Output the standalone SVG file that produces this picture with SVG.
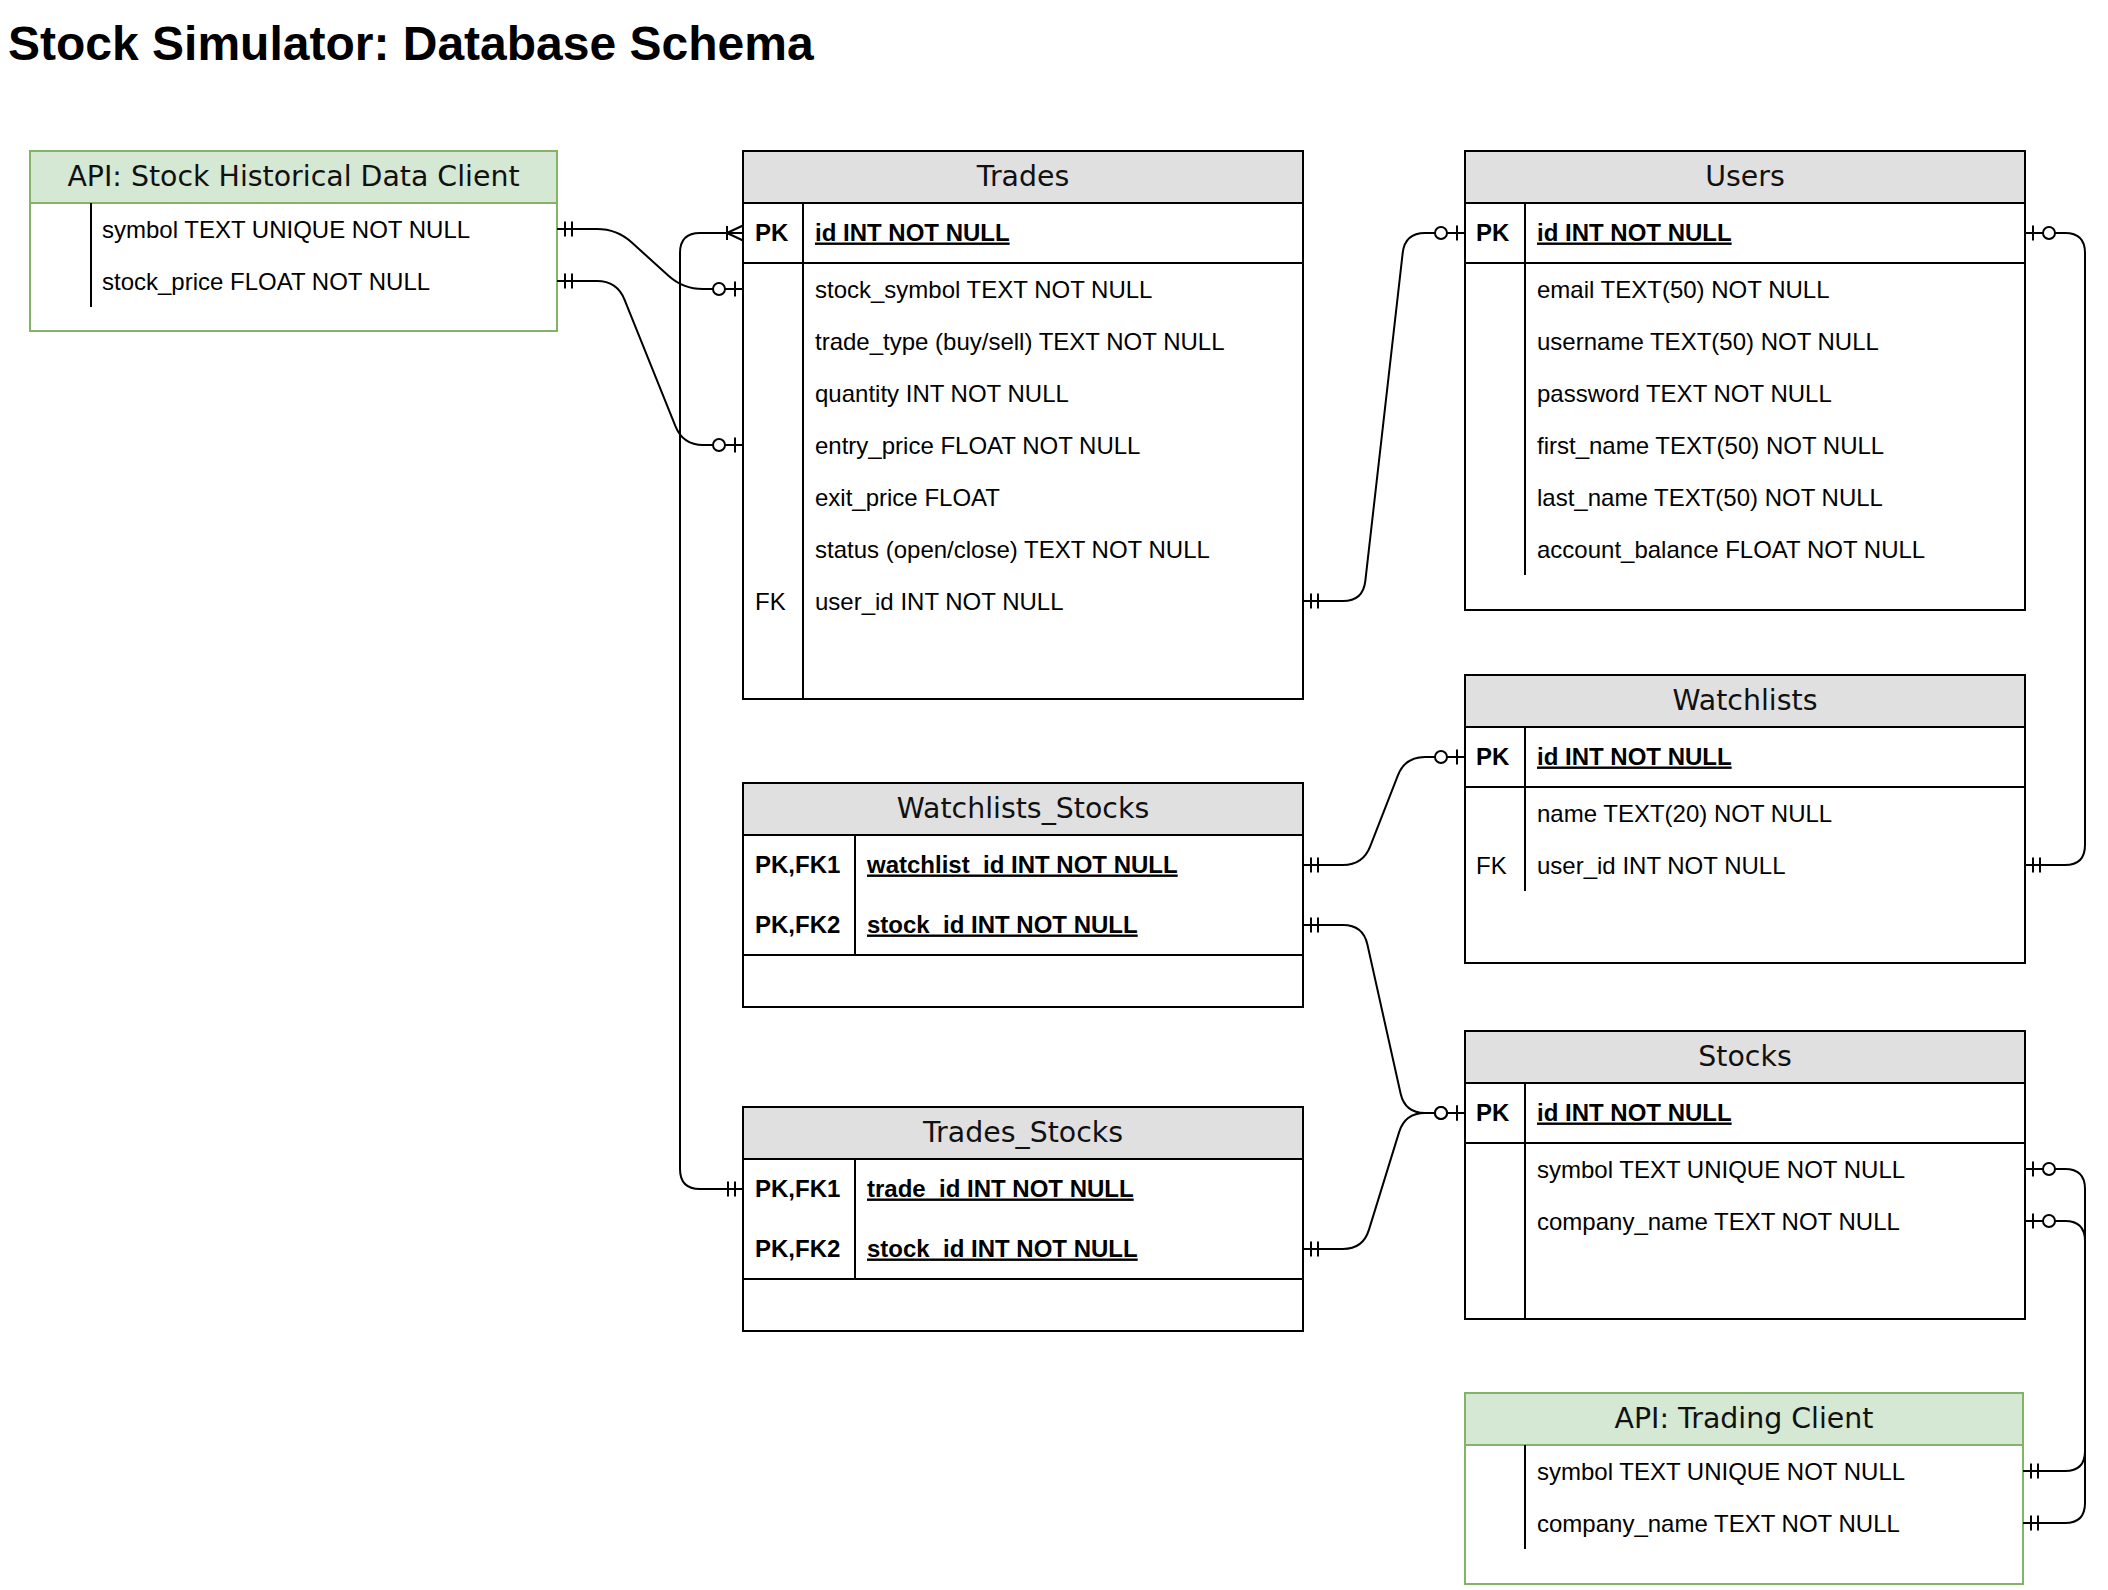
<svg xmlns="http://www.w3.org/2000/svg" width="2108" height="1590" viewBox="0 0 2108 1590">
<style>
.tbl{fill:#fff;stroke:#000;stroke-width:2}
.hdr{fill:#e0e0e0;stroke:#000;stroke-width:2}
.api{fill:#fff;stroke:#82b366;stroke-width:2}
.apih{fill:#d5e8d4;stroke:#82b366;stroke-width:2}
.sep{stroke:#000;stroke-width:2;fill:none}
.ht{font-family:"DejaVu Sans",Verdana,sans-serif;font-size:28.4px;text-anchor:middle;fill:#111}
.t{font-family:"Liberation Sans",Arial,sans-serif;font-size:24px;fill:#000}
.b{font-weight:bold}
.u{text-decoration:underline}
.title{font-family:"Liberation Sans",Arial,sans-serif;font-size:48px;font-weight:bold;fill:#000}
#connectors path{fill:none;stroke:#000;stroke-width:2}
.mk{fill:none;stroke:#000;stroke-width:2}
.mkc{fill:#fff;stroke:#000;stroke-width:2}
</style>
<defs>
<marker id="mandOne" markerUnits="userSpaceOnUse" viewBox="-30 -12 32 24" markerWidth="32" markerHeight="24" refX="0" refY="0" orient="auto-start-reverse" overflow="visible">
<path class="mk" d="M-8,-7.5 V7.5 M-15,-7.5 V7.5"/>
</marker>
<marker id="zeroToOne" markerUnits="userSpaceOnUse" viewBox="-34 -12 36 24" markerWidth="36" markerHeight="24" refX="0" refY="0" orient="auto-start-reverse" overflow="visible">
<path class="mk" d="M-8,-7.5 V7.5"/>
<circle class="mkc" cx="-24" cy="0" r="6"/>
</marker>
<marker id="oneToMany" markerUnits="userSpaceOnUse" viewBox="-30 -12 32 24" markerWidth="32" markerHeight="24" refX="0" refY="0" orient="auto-start-reverse" overflow="visible">
<path class="mk" d="M-16,-7 V7 M-16,0 L0,-7.5 M-16,0 L0,7.5"/>
</marker>
</defs>
<rect x="0" y="0" width="2108" height="1590" fill="#fff"/>
<text class="title" x="8" y="60">Stock Simulator: Database Schema</text>

<g id="api-historical">
<rect class="api" x="30" y="151" width="527" height="180"/>
<rect class="apih" x="30" y="151" width="527" height="52"/>
<text class="ht" x="293.5" y="186">API: Stock Historical Data Client</text>
<line class="sep" x1="91" y1="203" x2="91" y2="307"/>
<text class="t" x="102" y="237.5">symbol TEXT UNIQUE NOT NULL</text>
<text class="t" x="102" y="289.5">stock_price FLOAT NOT NULL</text>
</g>

<g id="trades">
<rect class="tbl" x="743" y="151" width="560" height="548"/>
<rect class="hdr" x="743" y="151" width="560" height="52"/>
<text class="ht" x="1023" y="186">Trades</text>
<line class="sep" x1="743" y1="263" x2="1303" y2="263"/>
<line class="sep" x1="803" y1="203" x2="803" y2="699"/>
<text class="t b" x="755" y="240.5">PK</text>
<text class="t b u" x="815" y="240.5">id INT NOT NULL</text>
<text class="t" x="815" y="297.5">stock_symbol TEXT NOT NULL</text>
<text class="t" x="815" y="349.5">trade_type (buy/sell) TEXT NOT NULL</text>
<text class="t" x="815" y="401.5">quantity INT NOT NULL</text>
<text class="t" x="815" y="453.5">entry_price FLOAT NOT NULL</text>
<text class="t" x="815" y="505.5">exit_price FLOAT</text>
<text class="t" x="815" y="557.5">status (open/close) TEXT NOT NULL</text>
<text class="t" x="755" y="609.5">FK</text>
<text class="t" x="815" y="609.5">user_id INT NOT NULL</text>
</g>

<g id="users">
<rect class="tbl" x="1465" y="151" width="560" height="459"/>
<rect class="hdr" x="1465" y="151" width="560" height="52"/>
<text class="ht" x="1745" y="186">Users</text>
<line class="sep" x1="1465" y1="263" x2="2025" y2="263"/>
<line class="sep" x1="1525" y1="203" x2="1525" y2="575"/>
<text class="t b" x="1476" y="240.5">PK</text>
<text class="t b u" x="1537" y="240.5">id INT NOT NULL</text>
<text class="t" x="1537" y="297.5">email TEXT(50) NOT NULL</text>
<text class="t" x="1537" y="349.5">username TEXT(50) NOT NULL</text>
<text class="t" x="1537" y="401.5">password TEXT NOT NULL</text>
<text class="t" x="1537" y="453.5">first_name TEXT(50) NOT NULL</text>
<text class="t" x="1537" y="505.5">last_name TEXT(50) NOT NULL</text>
<text class="t" x="1537" y="557.5">account_balance FLOAT NOT NULL</text>
</g>

<g id="watchlists">
<rect class="tbl" x="1465" y="675" width="560" height="288"/>
<rect class="hdr" x="1465" y="675" width="560" height="52"/>
<text class="ht" x="1745" y="710">Watchlists</text>
<line class="sep" x1="1465" y1="787" x2="2025" y2="787"/>
<line class="sep" x1="1525" y1="727" x2="1525" y2="891"/>
<text class="t b" x="1476" y="764.5">PK</text>
<text class="t b u" x="1537" y="764.5">id INT NOT NULL</text>
<text class="t" x="1537" y="821.5">name TEXT(20) NOT NULL</text>
<text class="t" x="1476" y="873.5">FK</text>
<text class="t" x="1537" y="873.5">user_id INT NOT NULL</text>
</g>

<g id="watchlists-stocks">
<rect class="tbl" x="743" y="783" width="560" height="224"/>
<rect class="hdr" x="743" y="783" width="560" height="52"/>
<text class="ht" x="1023" y="818">Watchlists_Stocks</text>
<line class="sep" x1="743" y1="955" x2="1303" y2="955"/>
<line class="sep" x1="855" y1="835" x2="855" y2="955"/>
<text class="t b" x="755" y="872.5">PK,FK1</text>
<text class="t b u" x="867" y="872.5">watchlist_id INT NOT NULL</text>
<text class="t b" x="755" y="932.5">PK,FK2</text>
<text class="t b u" x="867" y="932.5">stock_id INT NOT NULL</text>
</g>

<g id="trades-stocks">
<rect class="tbl" x="743" y="1107" width="560" height="224"/>
<rect class="hdr" x="743" y="1107" width="560" height="52"/>
<text class="ht" x="1023" y="1142">Trades_Stocks</text>
<line class="sep" x1="743" y1="1279" x2="1303" y2="1279"/>
<line class="sep" x1="855" y1="1159" x2="855" y2="1279"/>
<text class="t b" x="755" y="1196.5">PK,FK1</text>
<text class="t b u" x="867" y="1196.5">trade_id INT NOT NULL</text>
<text class="t b" x="755" y="1256.5">PK,FK2</text>
<text class="t b u" x="867" y="1256.5">stock_id INT NOT NULL</text>
</g>

<g id="stocks">
<rect class="tbl" x="1465" y="1031" width="560" height="288"/>
<rect class="hdr" x="1465" y="1031" width="560" height="52"/>
<text class="ht" x="1745" y="1066">Stocks</text>
<line class="sep" x1="1465" y1="1143" x2="2025" y2="1143"/>
<line class="sep" x1="1525" y1="1083" x2="1525" y2="1319"/>
<text class="t b" x="1476" y="1120.5">PK</text>
<text class="t b u" x="1537" y="1120.5">id INT NOT NULL</text>
<text class="t" x="1537" y="1177.5">symbol TEXT UNIQUE NOT NULL</text>
<text class="t" x="1537" y="1229.5">company_name TEXT NOT NULL</text>
</g>

<g id="api-trading">
<rect class="api" x="1465" y="1393" width="558" height="191"/>
<rect class="apih" x="1465" y="1393" width="558" height="52"/>
<text class="ht" x="1744" y="1428">API: Trading Client</text>
<line class="sep" x1="1525" y1="1445" x2="1525" y2="1549"/>
<text class="t" x="1537" y="1479.5">symbol TEXT UNIQUE NOT NULL</text>
<text class="t" x="1537" y="1531.5">company_name TEXT NOT NULL</text>
</g>

<g id="connectors">
<path marker-start="url(#mandOne)" marker-end="url(#zeroToOne)" d="M557,229 L597,229 Q617,229 631.8,242.5 L668.2,275.5 Q683,289 703,289 L743,289"/>
<path marker-start="url(#mandOne)" marker-end="url(#zeroToOne)" d="M557,281 L597,281 Q617,281 624.5,299.6 L675.5,426.4 Q683,445 703,445 L743,445"/>
<path marker-start="url(#oneToMany)" marker-end="url(#mandOne)" d="M743,233 L700,233 Q680,233 680,253 L680,1169 Q680,1189 700,1189 L743,1189"/>
<path marker-start="url(#mandOne)" marker-end="url(#zeroToOne)" d="M1303,601 L1343,601 Q1363,601 1365.3,581.1 L1402.7,252.9 Q1405,233 1425,233 L1465,233"/>
<path marker-start="url(#zeroToOne)" marker-end="url(#mandOne)" d="M2025,233 L2065,233 Q2085,233 2085,253 L2085,845 Q2085,865 2065,865 L2025,865"/>
<path marker-start="url(#mandOne)" marker-end="url(#zeroToOne)" d="M1303,865 L1343,865 Q1363,865 1370.2,846.4 L1397.8,775.6 Q1405,757 1425,757 L1465,757"/>
<path marker-start="url(#mandOne)" marker-end="url(#zeroToOne)" d="M1303,925 L1343,925 Q1363,925 1367.4,944.5 L1400.6,1093.5 Q1405,1113 1425,1113 L1465,1113"/>
<path marker-start="url(#mandOne)" marker-end="url(#zeroToOne)" d="M1303,1249 L1343,1249 Q1363,1249 1368.9,1229.9 L1399.1,1132.1 Q1405,1113 1425,1113 L1465,1113"/>
<path marker-start="url(#zeroToOne)" marker-end="url(#mandOne)" d="M2025,1169 L2065,1169 Q2085,1169 2085,1189 L2085,1451 Q2085,1471 2065,1471 L2023,1471"/>
<path marker-start="url(#zeroToOne)" marker-end="url(#mandOne)" d="M2025,1221 L2065,1221 Q2085,1221 2085,1241 L2085,1503 Q2085,1523 2065,1523 L2023,1523"/>
</g>
</svg>
